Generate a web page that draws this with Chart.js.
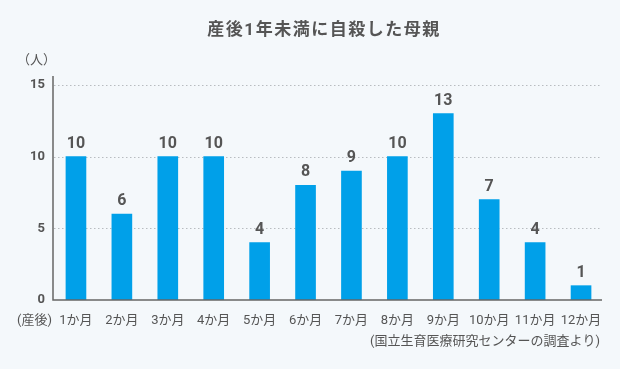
<!DOCTYPE html>
<html><head><meta charset="utf-8">
<script src="https://cdn.jsdelivr.net/npm/chart.js@4/dist/chart.umd.min.js"></script>
<style>html,body{margin:0;padding:0;background:#f4f8fb;}#w{width:620px;height:369px;}</style>
</head><body><div id="w"><canvas id="c" width="620" height="369"></canvas></div>
<script>
const categories = ["1か月","2か月","3か月","4か月","5か月","6か月","7か月","8か月","9か月","10か月","11か月","12か月"];
const values = [10,6,10,10,4,8,9,10,13,7,4,1];
const yTicks = [0,5,10,15];
const titleText = "産後1年未満に自殺した母親";
const unitText = "（人）";
const prefixText = "(産後)";
const sourceText = "(国立生育医療研究センターの調査より)";
const FONT = "Roboto, 'Noto Sans CJK JP', sans-serif";
const TXT = "#555";

const deco = {
  id: 'deco',
  beforeDraw(chart) {
    const {ctx, chartArea: a, scales: {x, y}} = chart;
    ctx.save();
    ctx.strokeStyle = "#b8bcc0"; ctx.lineWidth = 1; ctx.setLineDash([1.5, 2.5]);
    yTicks.forEach(t => { if (t === 0) return; const py = Math.round(y.getPixelForValue(t)) + 0.5;
      ctx.beginPath(); ctx.moveTo(a.left + 1, py); ctx.lineTo(a.right - 4, py); ctx.stroke(); });
    ctx.restore();
  },
  afterDatasetsDraw(chart) {
    const {ctx, chartArea: a, scales: {x, y}} = chart;
    ctx.save();
    ctx.strokeStyle = "#666"; ctx.lineWidth = 1.5;
    ctx.beginPath(); ctx.moveTo(a.left, y.getPixelForValue(15) - 9); ctx.lineTo(a.left, a.bottom); ctx.lineTo(a.right - 2, a.bottom); ctx.stroke();
    ctx.fillStyle = TXT; ctx.font = "bold 16px " + FONT; ctx.textAlign = "center"; ctx.textBaseline = "alphabetic";
    const meta = chart.getDatasetMeta(0);
    meta.data.forEach((b, i) => ctx.fillText(String(values[i]), b.x, b.y - 9));
    ctx.font = "bold 17px " + FONT; ctx.fillStyle = "#555"; ctx.textBaseline = "middle";
    ctx.letterSpacing = "1.5px";
    ctx.fillText(titleText, 324, 31);
    ctx.letterSpacing = "0px";
    ctx.font = "13px " + FONT; ctx.textAlign = "left"; ctx.fillStyle = TXT;
    ctx.fillText(unitText, 17, 61);
    ctx.fillText(prefixText, 17, 321);
    ctx.textAlign = "right";
    ctx.fillText(sourceText, 600, 342);
    ctx.restore();
  }
};

new Chart(document.getElementById('c'), {
  type: 'bar',
  data: { labels: categories, datasets: [{ data: values, backgroundColor: "#00a0e9", barThickness: 20 }] },
  options: {
    responsive: false, animation: false,
    layout: { padding: { left: 0, right: 16, top: 85, bottom: 39 } },
    plugins: { legend: { display: false }, tooltip: { enabled: false }, title: { display: false } },
    scales: {
      x: {
        grid: { display: false, drawTicks: false }, border: { display: false },
        ticks: { color: TXT, font: { family: FONT, size: 13 }, padding: 13, maxRotation: 0, autoSkip: false },
        afterFit(s) { s.height = 30; }
      },
      y: {
        min: 0, max: 15,
        afterBuildTicks(s) { s.ticks = yTicks.map(v => ({ value: v })); },
        grid: { display: false, drawTicks: false }, border: { display: false },
        ticks: { color: TXT, font: { family: FONT, size: 13, weight: 'bold' }, padding: 8 },
        afterFit(s) { s.width = 53; }
      }
    }
  },
  plugins: [deco]
});
</script></body></html>
